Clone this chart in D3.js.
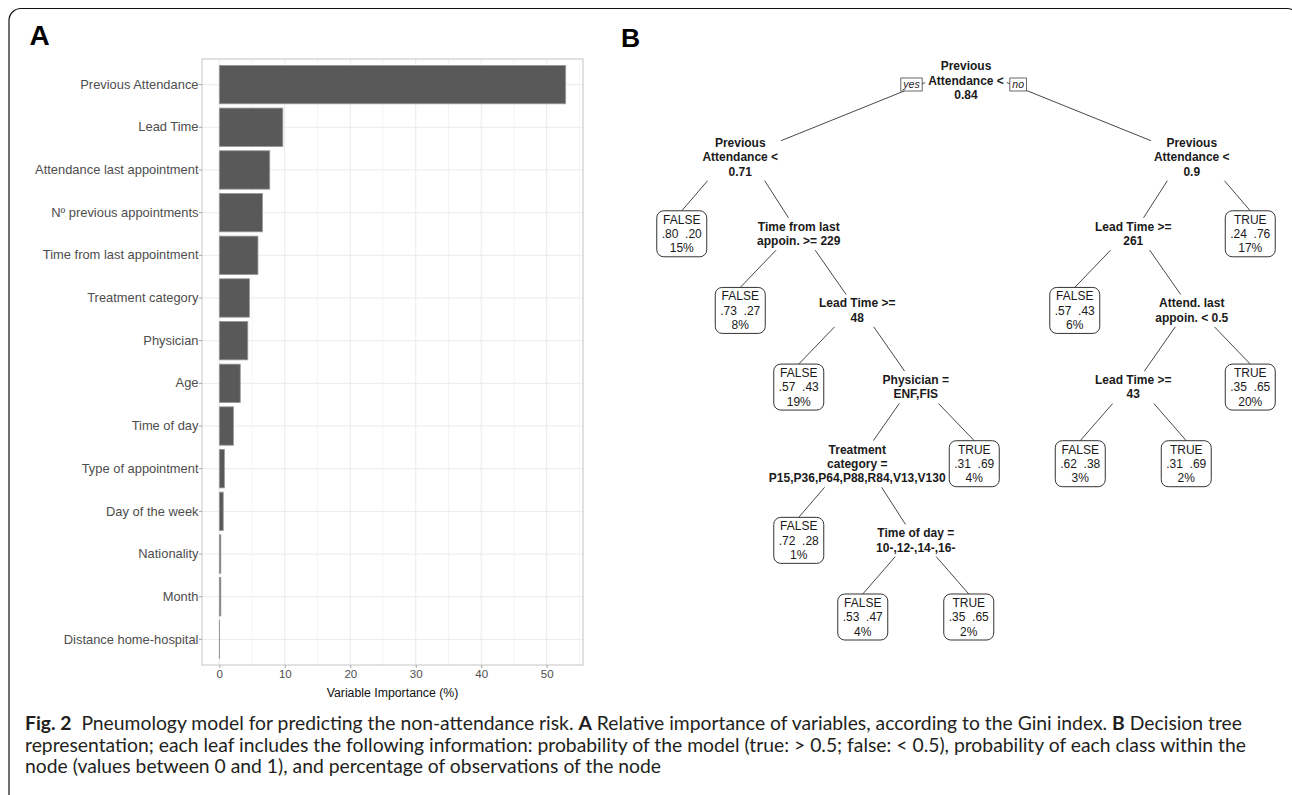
<!DOCTYPE html>
<html><head><meta charset="utf-8">
<script src="https://cdn.jsdelivr.net/npm/d3@7"></script>
<style>
body{margin:0;background:#fff;}
svg{display:block;}
text{font-family:"Liberation Sans",Arial,Helvetica,sans-serif;}
.cap{font-family:Lato,"Open Sans",sans-serif;white-space:pre;fill:#231f20;}
</style></head><body>
<svg id="chart" width="1292" height="795"></svg>
<script>
// ---------------- Panel A data ----------------
const variables = ["Previous Attendance","Lead Time","Attendance last appointment","Nº previous appointments",
  "Time from last appointment","Treatment category","Physician","Age","Time of day","Type of appointment",
  "Day of the week","Nationality","Month","Distance home-hospital"];
const importance = [52.9, 9.7, 7.7, 6.6, 5.9, 4.6, 4.35, 3.2, 2.15, 0.78, 0.6, 0.23, 0.23, 0.05];
const xTicks = [0, 10, 20, 30, 40, 50];
const xMinor = [5, 15, 25, 35, 45, 55];
const xTitle = "Variable Importance (%)";

// ---------------- Panel B data (rpart node numbering: parent = floor(id/2)) ----------------
const splitNodes = [
  {id:1,  label:["Previous","Attendance <","0.84"]},
  {id:2,  label:["Previous","Attendance <","0.71"]},
  {id:3,  label:["Previous","Attendance <","0.9"]},
  {id:5,  label:["Time from last","appoin. >= 229"]},
  {id:6,  label:["Lead Time >=","261"]},
  {id:11, label:["Lead Time >=","48"]},
  {id:13, label:["Attend. last","appoin. < 0.5"]},
  {id:23, label:["Physician =","ENF,FIS"]},
  {id:26, label:["Lead Time >=","43"]},
  {id:46, label:["Treatment","category =","P15,P36,P64,P88,R84,V13,V130"]},
  {id:93, label:["Time of day =","10-,12-,14-,16-"]}
];
const leafNodes = [
  {id:4,   cls:"FALSE", p:[".80",".20"], pct:"15%"},
  {id:10,  cls:"FALSE", p:[".73",".27"], pct:"8%"},
  {id:22,  cls:"FALSE", p:[".57",".43"], pct:"19%"},
  {id:92,  cls:"FALSE", p:[".72",".28"], pct:"1%"},
  {id:186, cls:"FALSE", p:[".53",".47"], pct:"4%"},
  {id:187, cls:"TRUE",  p:[".35",".65"], pct:"2%"},
  {id:47,  cls:"TRUE",  p:[".31",".69"], pct:"4%"},
  {id:12,  cls:"FALSE", p:[".57",".43"], pct:"6%"},
  {id:52,  cls:"FALSE", p:[".62",".38"], pct:"3%"},
  {id:53,  cls:"TRUE",  p:[".31",".69"], pct:"2%"},
  {id:27,  cls:"TRUE",  p:[".35",".65"], pct:"20%"},
  {id:7,   cls:"TRUE",  p:[".24",".76"], pct:"17%"}
];
const branchLabels = ["yes", "no"];

// ---------------- Caption ----------------
const captionLines = [
  [{t:"Fig. 2", b:true},{t:"  Pneumology model for predicting the non-attendance risk. "},{t:"A", b:true},
   {t:" Relative importance of variables, according to the Gini index. "},{t:"B", b:true},{t:" Decision tree"}],
  [{t:"representation; each leaf includes the following information: probability of the model (true: > 0.5; false: < 0.5), probability of each class within the"}],
  [{t:"node (values between 0 and 1), and percentage of observations of the node"}]
];

const svg = d3.select("#chart");

// outer frame
svg.append("rect").attr("x",9).attr("y",8.5).attr("width",1290).attr("height",800)
  .attr("rx",12).attr("fill","none").attr("stroke","#111").attr("stroke-width",1.2);

// panel letters
svg.append("text").attr("x",29.5).attr("y",45).attr("font-size",28).attr("font-weight","bold").text("A");
svg.append("text").attr("x",621).attr("y",47).attr("font-size",26.5).attr("font-weight","bold").text("B");

// ================= Panel A =================
const pA = {left:202, right:583, top:59, bottom:665};
const maxV = d3.max(importance);
const x = d3.scaleLinear().domain([-0.05*maxV, 1.05*maxV]).range([pA.left, pA.right]);
const y = d3.scaleBand().domain(variables).range([pA.top, pA.bottom]).paddingInner(0.1).paddingOuter(0.15);
const gA = svg.append("g");

// grid
gA.selectAll(".minor").data(xMinor.filter(v => x(v) < pA.right)).join("line")
  .attr("x1",d=>x(d)).attr("x2",d=>x(d)).attr("y1",pA.top).attr("y2",pA.bottom)
  .attr("stroke","#f3f3f3").attr("stroke-width",0.8);
gA.selectAll(".majorx").data(xTicks).join("line")
  .attr("x1",d=>x(d)).attr("x2",d=>x(d)).attr("y1",pA.top).attr("y2",pA.bottom)
  .attr("stroke","#ebebeb").attr("stroke-width",1);
gA.selectAll(".majory").data(variables).join("line")
  .attr("x1",pA.left).attr("x2",pA.right)
  .attr("y1",d=>y(d)+y.bandwidth()/2).attr("y2",d=>y(d)+y.bandwidth()/2)
  .attr("stroke","#ebebeb").attr("stroke-width",1);

// bars
gA.selectAll(".bar").data(variables).join("rect")
  .attr("x",x(0)).attr("y",d=>y(d))
  .attr("width",(d,i)=>x(importance[i])-x(0)).attr("height",y.bandwidth())
  .attr("fill","#595959").attr("stroke","#9a9a9a").attr("stroke-width",0.8);

// panel border
gA.append("rect").attr("x",pA.left).attr("y",pA.top)
  .attr("width",pA.right-pA.left).attr("height",pA.bottom-pA.top)
  .attr("fill","none").attr("stroke","#c4c4c4").attr("stroke-width",1);

// axes
const ax = gA.append("g").attr("transform",`translate(0,${pA.bottom})`)
  .call(d3.axisBottom(x).tickValues(xTicks).tickSize(3).tickPadding(2));
ax.select(".domain").remove();
ax.selectAll(".tick line").attr("stroke","#a6a6a6");
ax.selectAll(".tick text").attr("font-size",11.5).attr("fill","#4d4d4d")
  .attr("font-family","'Liberation Sans',Arial,sans-serif");

const ay = gA.append("g").attr("transform",`translate(${pA.left},0)`)
  .call(d3.axisLeft(y).tickSize(3).tickPadding(0.5));
ay.select(".domain").remove();
ay.selectAll(".tick line").attr("stroke","#a6a6a6");
ay.selectAll(".tick text").attr("font-size",12.9).attr("fill","#4d4d4d")
  .attr("font-family","'Liberation Sans',Arial,sans-serif");

gA.append("text").attr("x",(pA.left+pA.right)/2).attr("y",697).attr("text-anchor","middle")
  .attr("font-size",12.3).attr("fill","#111").text(xTitle);

// ================= Panel B =================
const allNodes = splitNodes.map(d=>({...d, leaf:false})).concat(leafNodes.map(d=>({...d, leaf:true})));
const root = d3.stratify()
  .id(d=>d.id)
  .parentId(d=> d.id===1 ? null : Math.floor(d.id/2))(allNodes)
  .sort((a,b)=>a.data.id-b.data.id);

const leafSep = 106/117;
d3.tree().nodeSize([1,1]).separation((a,b)=> (a.children||b.children) ? 1 : leafSep)(root);

const rootPx = 966, unitPx = 117;
const xT = d3.scaleLinear().domain([root.x, root.x+1]).range([rootPx, rootPx+unitPx]);
const yT = d3.scaleLinear().domain([0, 7]).range([80.5, 617]);
const lh = 14.4, boxW = 50, boxH = 46;

const gB = svg.append("g");
const gLines = gB.append("g");
const gLab = gB.append("g");

function firstLineY(n){
  const nl = n.data.leaf ? 3 : n.data.label.length;
  return yT(n.depth) - (nl-1)/2*lh;
}
// branches (drawn under the label boxes)
gLines.selectAll("line").data(root.descendants().filter(d=>d.parent)).join("line")
  .attr("x1",d=>xT(d.parent.x)).attr("y1",d=>firstLineY(d.parent))
  .attr("x2",d=>xT(d.x)).attr("y2",d=> d.data.leaf ? yT(d.depth)-boxH/2 : yT(d.depth))
  .attr("stroke","#333").attr("stroke-width",0.9);

// split labels with white backing boxes
const splits = root.descendants().filter(d=>!d.data.leaf);
splits.forEach(n=>{
  const g = gLab.append("g");
  const bg = g.append("rect").attr("fill","#fff");
  const nl = n.data.label.length;
  const t = g.append("text").attr("text-anchor","middle").attr("font-size",12)
    .attr("font-weight","bold").attr("fill","#1a1a1a");
  n.data.label.forEach((s,i)=>{
    t.append("tspan").attr("x",xT(n.x)).attr("y",yT(n.depth)+(i-(nl-1)/2)*lh).attr("dy","0.35em").text(s);
  });
  const bb = t.node().getBBox();
  bg.attr("x",bb.x-3).attr("y",bb.y-2).attr("width",bb.width+6).attr("height",bb.height+4);
  n.bbox = bb;
});

// yes / no boxes next to the root label
const rb = root.bbox;
branchLabels.forEach((lab,i)=>{
  const g = gLab.append("g");
  const r = g.append("rect").attr("fill","#fff").attr("stroke","#444").attr("stroke-width",0.8);
  const t = g.append("text").attr("font-size",10.5).attr("font-style","italic").attr("fill","#222")
    .attr("y",84.5).attr("dy","0.35em").text(lab);
  const w = t.node().getComputedTextLength();
  const bx = i===0 ? rb.x - 6 - (w+5) : rb.x + rb.width + 6;
  t.attr("x", bx+2.5);
  r.attr("x",bx).attr("y",78).attr("width",w+5).attr("height",13);
});

// leaves
const leaves = root.descendants().filter(d=>d.data.leaf);
const gl = gLab.selectAll(".leaf").data(leaves).join("g");
gl.append("rect")
  .attr("x",d=>xT(d.x)-boxW/2).attr("y",d=>yT(d.depth)-boxH/2)
  .attr("width",boxW).attr("height",boxH).attr("rx",7)
  .attr("fill","#fff").attr("stroke","#333").attr("stroke-width",1);
gl.each(function(d){
  const t = d3.select(this).append("text").attr("text-anchor","middle").attr("font-size",12)
    .attr("fill","#1a1a1a").style("white-space","pre");
  [d.data.cls, d.data.p[0]+"  "+d.data.p[1], d.data.pct].forEach((s,i)=>{
    t.append("tspan").attr("x",xT(d.x)).attr("y",yT(d.depth)+(i-1)*lh).attr("dy","0.35em").text(s);
  });
});

// ================= Caption =================
const capBase = [730, 751.5, 773];
const capTexts = captionLines.map((parts,i)=>{
  const t = svg.append("text").attr("class","cap").attr("x",25).attr("y",capBase[i]).attr("font-size",16);
  parts.forEach(p=> t.append("tspan").attr("font-weight", p.b ? "bold" : null).text(p.t));
  return t;
});
const w2 = capTexts[1].node().getComputedTextLength();
const fs = 16 * 1222 / w2;
capTexts.forEach(t=>t.attr("font-size",fs));
</script>
</body></html>
